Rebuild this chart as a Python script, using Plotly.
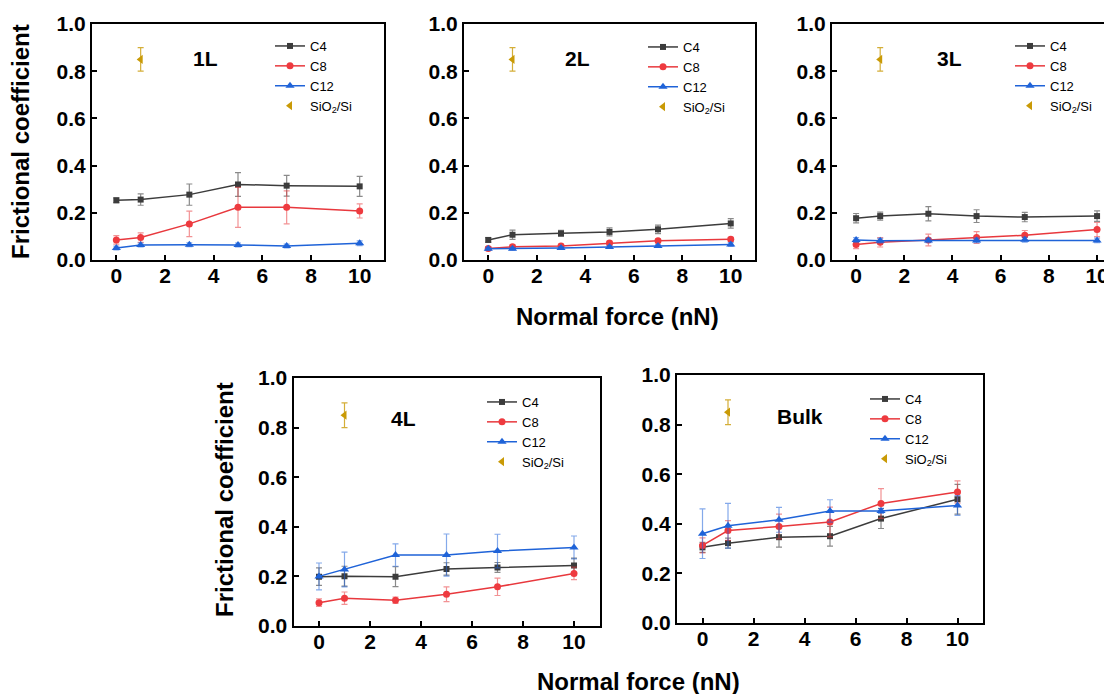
import plotly.graph_objects as go

force = [0, 1, 3, 5, 7, 10]
panels = ["1L", "2L", "3L", "4L", "Bulk"]

c4_1L = [0.253, 0.256, 0.277, 0.320, 0.315, 0.312]
c4_1L_err = [0.010, 0.024, 0.045, 0.050, 0.044, 0.042]
c8_1L = [0.085, 0.095, 0.153, 0.223, 0.223, 0.208]
c8_1L_err = [0.018, 0.020, 0.054, 0.085, 0.070, 0.030]
c12_1L = [0.051, 0.064, 0.065, 0.064, 0.059, 0.071]
c12_1L_err = [0.008, 0.008, 0.008, 0.008, 0.008, 0.010]

c4_2L = [0.085, 0.107, 0.113, 0.119, 0.130, 0.155]
c4_2L_err = [0.010, 0.020, 0.013, 0.017, 0.018, 0.020]
c8_2L = [0.049, 0.056, 0.059, 0.072, 0.082, 0.088]
c8_2L_err = [0.008, 0.008, 0.008, 0.008, 0.008, 0.008]
c12_2L = [0.048, 0.048, 0.051, 0.055, 0.059, 0.066]
c12_2L_err = [0.006, 0.006, 0.006, 0.006, 0.006, 0.008]

c4_3L = [0.177, 0.186, 0.196, 0.186, 0.182, 0.186]
c4_3L_err = [0.020, 0.017, 0.030, 0.027, 0.020, 0.022]
c8_3L = [0.066, 0.075, 0.085, 0.095, 0.105, 0.129]
c8_3L_err = [0.018, 0.020, 0.025, 0.025, 0.020, 0.030]
c12_3L = [0.085, 0.082, 0.083, 0.083, 0.086, 0.083]
c12_3L_err = [0.010, 0.010, 0.010, 0.010, 0.010, 0.010]

c4_4L = [0.199, 0.201, 0.199, 0.230, 0.236, 0.244]
c4_4L_err = [0.035, 0.040, 0.040, 0.025, 0.020, 0.030]
c8_4L = [0.094, 0.112, 0.104, 0.128, 0.158, 0.212]
c8_4L_err = [0.015, 0.025, 0.013, 0.030, 0.035, 0.025]
c12_4L = [0.200, 0.228, 0.286, 0.286, 0.302, 0.317]
c12_4L_err = [0.054, 0.070, 0.045, 0.085, 0.068, 0.046]

c4_bulk = [0.305, 0.322, 0.346, 0.350, 0.421, 0.499]
c4_bulk_err = [0.020, 0.020, 0.040, 0.040, 0.040, 0.060]
c8_bulk = [0.313, 0.373, 0.389, 0.407, 0.482, 0.528]
c8_bulk_err = [0.030, 0.040, 0.050, 0.060, 0.060, 0.045]
c12_bulk = [0.360, 0.392, 0.416, 0.452, 0.452, 0.474]
c12_bulk_err = [0.100, 0.090, 0.050, 0.045, 0.010, 0.040]

sio2_x = [1]
sio2_y = [0.85]
sio2_err = [0.05]

series_names = ["C4", "C8", "C12"]
data = [
    [(c4_1L, c4_1L_err), (c8_1L, c8_1L_err), (c12_1L, c12_1L_err)],
    [(c4_2L, c4_2L_err), (c8_2L, c8_2L_err), (c12_2L, c12_2L_err)],
    [(c4_3L, c4_3L_err), (c8_3L, c8_3L_err), (c12_3L, c12_3L_err)],
    [(c4_4L, c4_4L_err), (c8_4L, c8_4L_err), (c12_4L, c12_4L_err)],
    [(c4_bulk, c4_bulk_err), (c8_bulk, c8_bulk_err), (c12_bulk, c12_bulk_err)],
]

W, H = 1112, 694
OFF = 8  # page body margin
FONT = "Liberation Sans, Arial, sans-serif"

line_colors = ["#3c3c3c", "#e8383d", "#1f63d8"]
marker_colors = ["#3c3c3c", "#ee3a3f", "#1f63d8"]
err_colors = ["rgba(60,60,60,0.6)", "rgba(232,56,61,0.55)", "rgba(31,99,216,0.55)"]
symbols = ["square", "circle", "triangle-up"]
msizes = [6, 7, 8]
gold = "#c99a06"

def px_x(p):
    return (p - OFF) / W

def px_y(p):
    return 1 - (p - OFF) / H

# panel geometry in page pixels: (left, right, top, bottom, xrange_right)
geom = [
    (92, 384, 24, 260, 11),
    (464, 755, 24, 260, 11),
    (832, 1112, 24, 260, 10.62),
    (293.5, 599.5, 378, 626, 11),
    (677, 983, 375, 623, 11),
]
legend_pos = [(270, 36), (643, 37), (1010, 36), (482, 392), (865, 389)]
label_pos = [(205, 58), (577, 58), (949, 59), (403, 418), (800, 416)]

fig = go.Figure()
layout = {}

for i in range(5):
    n = "" if i == 0 else str(i + 1)
    xa, ya = "x" + n, "y" + n
    lg = "legend" + n
    for j in range(3):
        vals, errs = data[i][j]
        fig.add_trace(go.Scatter(
            x=force, y=vals, name=series_names[j], mode="lines+markers",
            line=dict(color=line_colors[j], width=1.5),
            marker=dict(symbol=symbols[j], size=msizes[j], color=marker_colors[j]),
            error_y=dict(type="data", array=errs, visible=True,
                         color=err_colors[j], thickness=1.2, width=3),
            xaxis=xa, yaxis=ya, legend=lg,
        ))
    fig.add_trace(go.Scatter(
        x=sio2_x, y=sio2_y, name="SiO<sub>2</sub>/Si", mode="markers",
        marker=dict(symbol="triangle-left", size=8, color=gold),
        error_y=dict(type="data", array=sio2_err, visible=True,
                     color="rgba(201,154,6,0.8)", thickness=1.2, width=3),
        xaxis=xa, yaxis=ya, legend=lg,
    ))
    l, r, t, b, xr = geom[i]
    layout["xaxis" + n] = dict(
        domain=[px_x(l), px_x(r)], range=[-1, xr], anchor=ya, automargin=False,
        tickvals=[0, 2, 4, 6, 8, 10], ticks="inside", ticklen=5, tickwidth=2,
        tickcolor="black", showline=True, linewidth=2, linecolor="black",
        mirror=True, showgrid=False, zeroline=False, ticklabelstandoff=-4,
        tickfont=dict(family=FONT, size=21, color="black", weight="bold"),
    )
    layout["yaxis" + n] = dict(
        domain=[px_y(b), px_y(t)], range=[0, 1], anchor=xa, automargin=False,
        tickvals=[0, 0.2, 0.4, 0.6, 0.8, 1.0], ticktext=["0.0", "0.2", "0.4", "0.6", "0.8", "1.0"],
        ticks="inside", ticklen=5, tickwidth=2, tickcolor="black",
        showline=True, linewidth=2, linecolor="black",
        mirror=(i != 2), showgrid=False, zeroline=False,
        tickfont=dict(family=FONT, size=21, color="black", weight="bold"),
    )
    lx, ly = legend_pos[i]
    layout[lg] = dict(
        x=px_x(lx), y=px_y(ly - 5), xanchor="left", yanchor="top",
        bgcolor="rgba(0,0,0,0)", borderwidth=0,
        font=dict(family=FONT, size=13, color="black"),
        tracegroupgap=0, itemwidth=30,
    )

annotations = []
for i in range(5):
    x, y = label_pos[i]
    annotations.append(dict(
        x=px_x(x), y=px_y(y), xref="paper", yref="paper", text="<b>%s</b>" % panels[i],
        showarrow=False, xanchor="center", yanchor="middle",
        font=dict(family=FONT, size=21, color="black")))

for (x, y) in [(20, 142), (224, 500)]:
    annotations.append(dict(
        x=px_x(x), y=px_y(y), xref="paper", yref="paper", text="<b>Frictional coefficient</b>",
        showarrow=False, textangle=-90, xanchor="center", yanchor="middle",
        font=dict(family=FONT, size=24, color="black")))

for (x, y) in [(617, 317), (638, 681)]:
    annotations.append(dict(
        x=px_x(x), y=px_y(y), xref="paper", yref="paper", text="<b>Normal force (nN)</b>",
        showarrow=False, xanchor="center", yanchor="middle",
        font=dict(family=FONT, size=24, color="black")))

fig.update_layout(
    width=W, height=H, margin=dict(l=0, r=0, t=0, b=0, autoexpand=False),
    paper_bgcolor="white", plot_bgcolor="white",
    annotations=annotations, **layout,
)

fig.write_html("out.html")
